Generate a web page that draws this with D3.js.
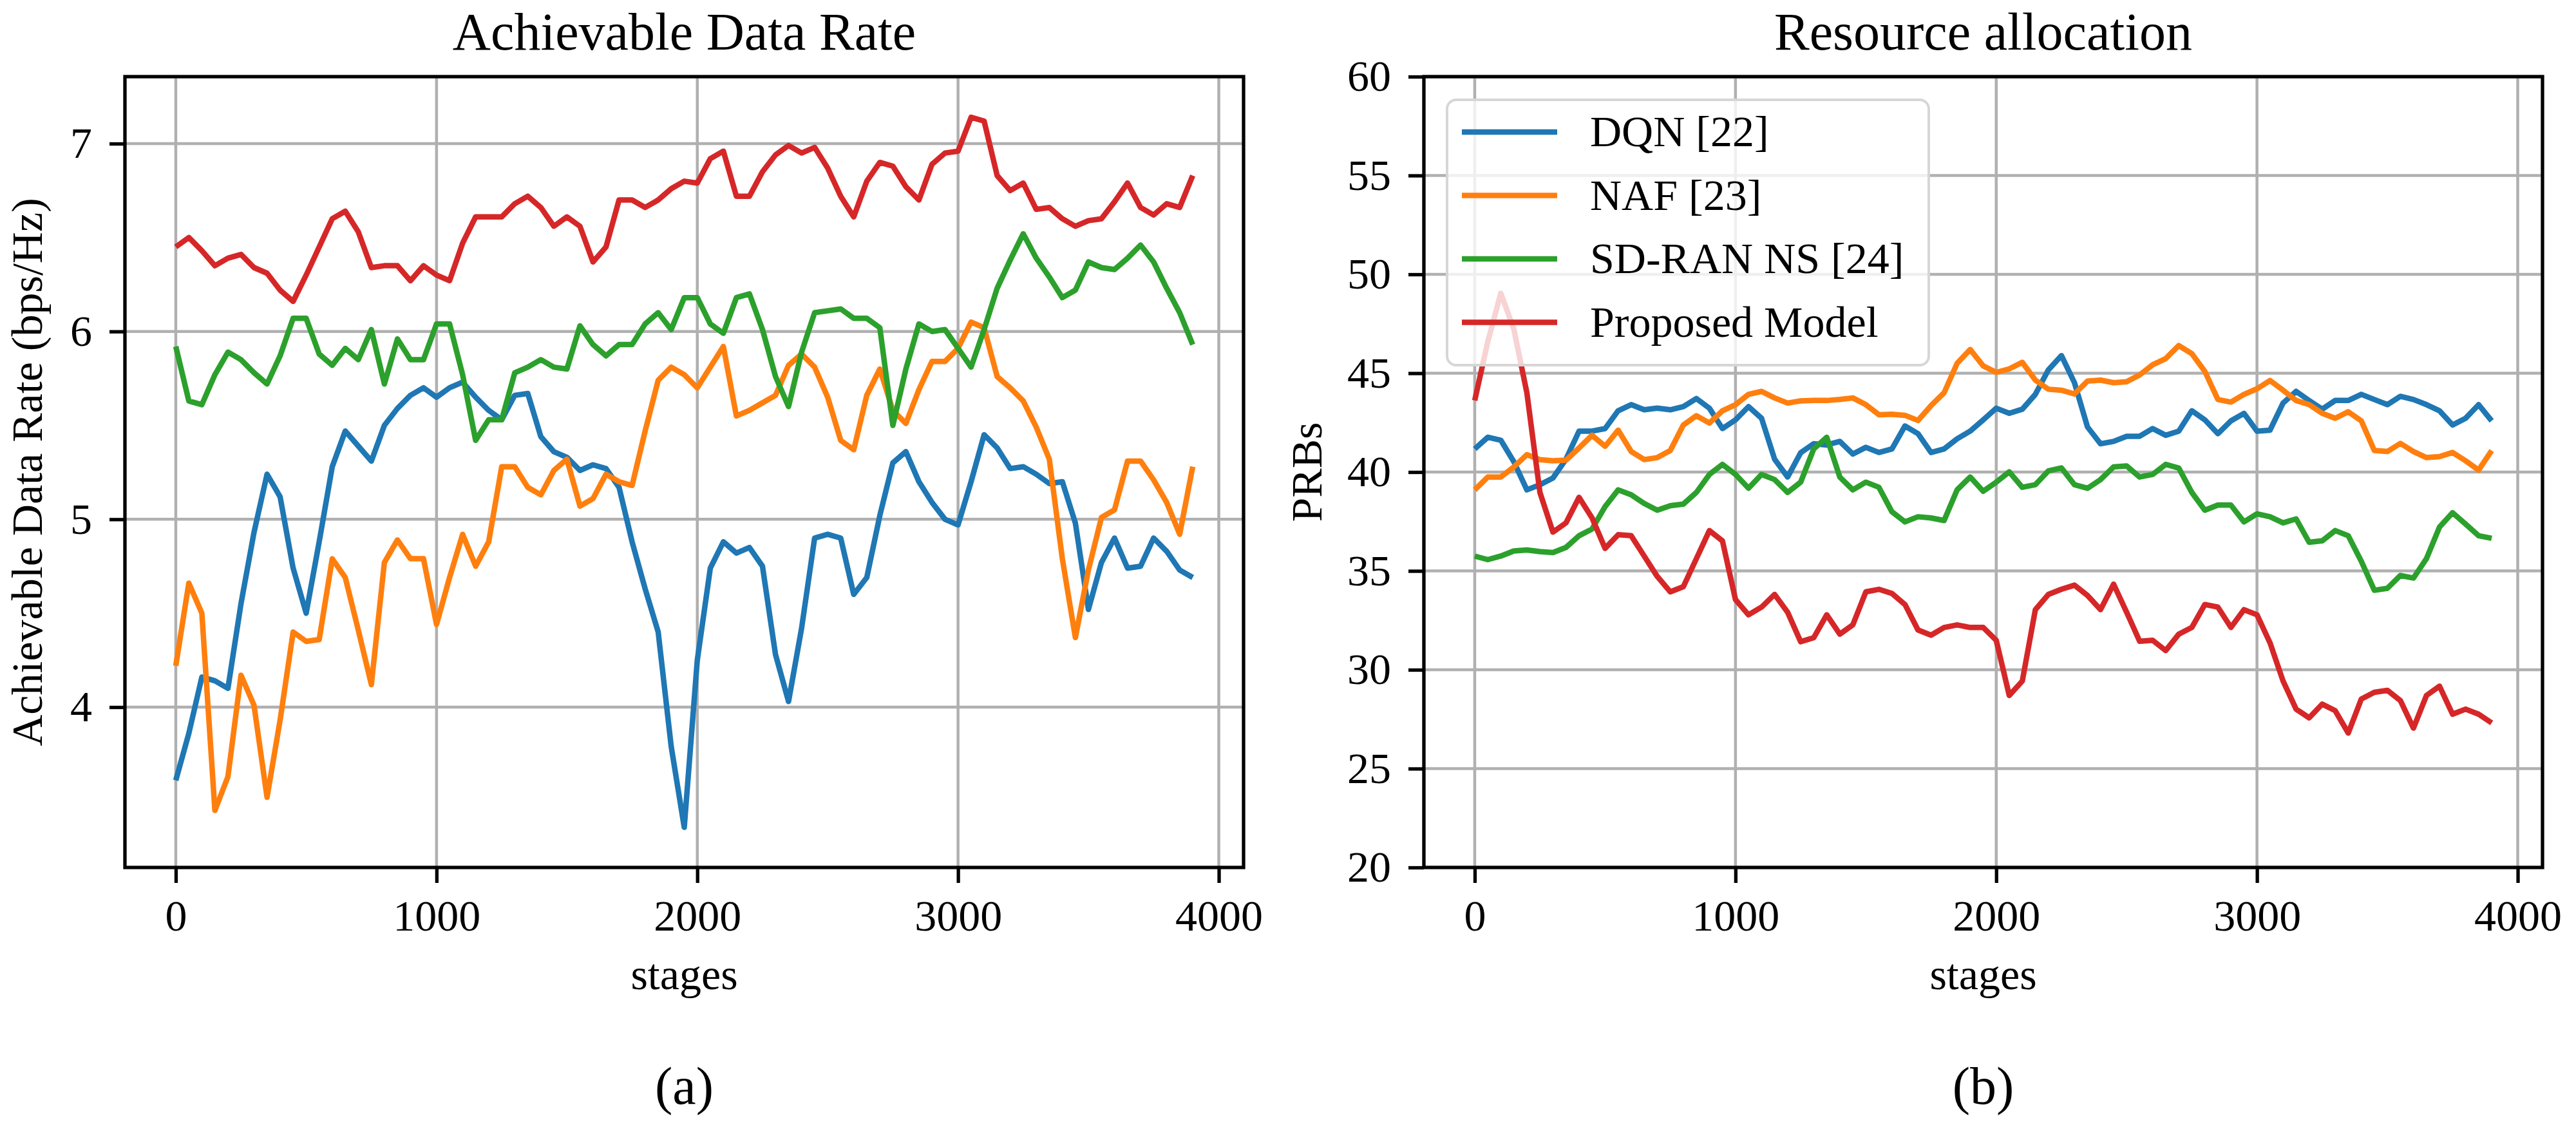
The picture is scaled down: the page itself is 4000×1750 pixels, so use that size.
<!DOCTYPE html>
<html><head><meta charset="utf-8">
<script src="https://cdn.jsdelivr.net/npm/d3@7"></script>
<style>
body{margin:0;background:#fff}
svg{display:block}
text{font-family:"Liberation Serif","Times New Roman",serif;fill:#000}
</style>
</head><body>
<svg id="chart" width="4000" height="1750"></svg>
<script>
// ---------------- data ----------------
const stages = d3.range(0, 3901, 50);
const seriesNames = ["DQN [22]", "NAF [23]", "SD-RAN NS [24]", "Proposed Model"];
const seriesColors = ["#1f77b4", "#ff7f0e", "#2ca02c", "#d62728"];
const xTicks = [0, 1000, 2000, 3000, 4000];
const rateTicks = [4, 5, 6, 7];
const prbTicks = [20, 25, 30, 35, 40, 45, 50, 55, 60];

// (a) Achievable data rate (bps/Hz)
const rateDQN = [3.61,3.86,4.16,4.14,4.10,4.55,4.93,5.24,5.12,4.74,4.50,4.88,5.28,5.47,5.39,5.31,5.50,5.59,5.66,5.70,5.65,5.70,5.73,5.65,5.58,5.53,5.66,5.67,5.44,5.36,5.33,5.26,5.29,5.27,5.17,4.88,4.63,4.40,3.79,3.36,4.25,4.74,4.88,4.82,4.85,4.75,4.28,4.03,4.42,4.90,4.92,4.90,4.60,4.69,5.02,5.30,5.36,5.20,5.09,5.00,4.97,5.20,5.45,5.38,5.27,5.28,5.24,5.19,5.20,4.98,4.52,4.77,4.90,4.74,4.75,4.90,4.83,4.73,4.69];
const rateNAF = [4.22,4.66,4.50,3.45,3.63,4.17,4.01,3.52,3.93,4.40,4.35,4.36,4.79,4.69,4.41,4.12,4.77,4.89,4.79,4.79,4.44,4.69,4.92,4.75,4.88,5.28,5.28,5.17,5.13,5.26,5.32,5.07,5.11,5.24,5.20,5.18,5.47,5.74,5.81,5.77,5.70,5.81,5.92,5.55,5.58,5.62,5.66,5.82,5.88,5.81,5.65,5.42,5.37,5.66,5.80,5.58,5.51,5.69,5.84,5.84,5.91,6.05,6.02,5.76,5.70,5.63,5.49,5.32,4.79,4.37,4.73,5.01,5.05,5.31,5.31,5.21,5.09,4.92,5.28];
const rateSDRAN = [5.92,5.63,5.61,5.77,5.89,5.85,5.78,5.72,5.87,6.07,6.07,5.88,5.82,5.91,5.85,6.01,5.72,5.96,5.85,5.85,6.04,6.04,5.77,5.42,5.53,5.53,5.78,5.81,5.85,5.81,5.80,6.03,5.93,5.87,5.93,5.93,6.04,6.10,6.01,6.18,6.18,6.04,5.99,6.18,6.20,6.01,5.76,5.60,5.89,6.10,6.11,6.12,6.07,6.07,6.02,5.50,5.80,6.04,6.00,6.01,5.91,5.81,6.01,6.23,6.38,6.52,6.39,6.29,6.18,6.22,6.37,6.34,6.33,6.39,6.46,6.37,6.23,6.10,5.93];
const rateProposed = [6.45,6.50,6.43,6.35,6.39,6.41,6.34,6.31,6.22,6.16,6.30,6.45,6.60,6.64,6.53,6.34,6.35,6.35,6.27,6.35,6.30,6.27,6.47,6.61,6.61,6.61,6.68,6.72,6.66,6.56,6.61,6.56,6.37,6.45,6.70,6.70,6.66,6.70,6.76,6.80,6.79,6.92,6.96,6.72,6.72,6.85,6.94,6.99,6.95,6.98,6.87,6.72,6.61,6.80,6.90,6.88,6.77,6.70,6.89,6.95,6.96,7.14,7.12,6.83,6.75,6.79,6.65,6.66,6.60,6.56,6.59,6.60,6.69,6.79,6.66,6.62,6.68,6.66,6.83];

// (b) Resource allocation (PRBs)
const prbDQN = [41.17,41.76,41.61,40.52,39.10,39.36,39.70,40.65,42.07,42.07,42.20,43.10,43.41,43.15,43.23,43.15,43.31,43.72,43.23,42.20,42.64,43.31,42.72,40.65,39.75,40.98,41.43,41.37,41.55,40.91,41.25,40.99,41.17,42.33,41.94,40.99,41.17,41.68,42.07,42.64,43.23,42.97,43.18,43.93,45.17,45.89,44.52,42.28,41.43,41.55,41.81,41.81,42.20,41.86,42.07,43.10,42.64,41.94,42.59,42.97,42.07,42.12,43.49,44.08,43.62,43.18,43.62,43.62,43.93,43.67,43.41,43.83,43.67,43.41,43.10,42.38,42.72,43.41,42.59];
const prbNAF = [39.10,39.75,39.75,40.26,40.88,40.63,40.57,40.60,41.22,41.86,41.30,42.12,41.04,40.63,40.73,41.09,42.38,42.85,42.48,43.10,43.41,43.93,44.08,43.75,43.49,43.60,43.62,43.62,43.67,43.75,43.41,42.90,42.92,42.87,42.61,43.36,44.01,45.50,46.20,45.37,45.04,45.22,45.55,44.65,44.19,44.14,43.95,44.60,44.65,44.52,44.57,44.91,45.43,45.74,46.40,45.99,45.09,43.67,43.54,43.93,44.21,44.63,44.14,43.62,43.41,42.97,42.72,43.05,42.59,41.09,41.04,41.45,41.04,40.73,40.78,40.99,40.57,40.10,41.09];
const prbSDRAN = [35.75,35.57,35.75,36.01,36.06,35.98,35.93,36.19,36.78,37.12,38.25,39.10,38.85,38.41,38.07,38.30,38.38,38.97,39.88,40.39,39.88,39.18,39.88,39.62,38.97,39.49,41.17,41.76,39.75,39.10,39.49,39.23,37.99,37.48,37.74,37.68,37.55,39.10,39.75,39.03,39.49,40.01,39.23,39.36,40.06,40.21,39.36,39.18,39.62,40.26,40.31,39.75,39.88,40.39,40.20,38.97,38.07,38.33,38.33,37.48,37.89,37.74,37.43,37.63,36.45,36.52,37.04,36.78,35.49,34.02,34.12,34.77,34.64,35.62,37.22,37.94,37.37,36.78,36.65];
const prbProposed = [43.62,46.59,49.04,47.23,44.01,38.97,36.96,37.43,38.72,37.68,36.14,36.83,36.78,35.75,34.72,33.94,34.20,35.62,37.04,36.52,33.55,32.78,33.17,33.81,32.91,31.42,31.62,32.78,31.80,32.27,33.94,34.07,33.86,33.30,32.01,31.75,32.14,32.27,32.14,32.14,31.49,28.70,29.43,33.04,33.81,34.07,34.28,33.76,33.04,34.33,32.91,31.44,31.49,30.97,31.80,32.14,33.30,33.17,32.14,33.04,32.78,31.36,29.43,28.01,27.57,28.26,27.93,26.80,28.52,28.86,28.96,28.44,27.05,28.70,29.17,27.75,28.01,27.75,27.31];

// ---------------- drawing ----------------
const svg = d3.select("#chart");
svg.append("rect").attr("width", 4000).attr("height", 1750).attr("fill", "#fff");

const FONT = 68, TITLE_FONT = 82;
const xDomain = [-195, 4095];

function drawPanel(cfg) {
  const {x0, x1, y0, y1, yDomain, yTicks, series, title, ylabel, ylabelX, caption, legend} = cfg;
  const x = d3.scaleLinear().domain(xDomain).range([x0, x1]);
  const y = d3.scaleLinear().domain(yDomain).range([y1, y0]);
  const g = svg.append("g");

  // grid
  const grid = g.append("g");
  grid.selectAll("line.v").data(xTicks).join("line")
    .attr("x1", d => x(d)).attr("x2", d => x(d)).attr("y1", y0).attr("y2", y1)
    .attr("stroke", "#b0b0b0").attr("stroke-width", 4.5);
  grid.selectAll("line.h").data(yTicks).join("line")
    .attr("y1", d => y(d)).attr("y2", d => y(d)).attr("x1", x0).attr("x2", x1)
    .attr("stroke", "#b0b0b0").attr("stroke-width", 4.5);

  // lines
  const line = d3.line().x((d, i) => x(stages[i])).y(d => y(d));
  series.forEach((vals, k) => {
    g.append("path").datum(vals).attr("d", line)
      .attr("fill", "none").attr("stroke", seriesColors[k])
      .attr("stroke-width", 8.5).attr("stroke-linejoin", "round").attr("stroke-linecap", "butt");
  });

  // axes
  const ax = g.append("g").attr("transform", `translate(0,${y1})`)
    .call(d3.axisBottom(x).tickValues(xTicks).tickFormat(d3.format("d")).tickSizeInner(24).tickSizeOuter(0).tickPadding(26));
  const ay = g.append("g").attr("transform", `translate(${x0},0)`)
    .call(d3.axisLeft(y).tickValues(yTicks).tickFormat(d3.format("d")).tickSizeInner(24).tickSizeOuter(0).tickPadding(27));
  [ax, ay].forEach(a => {
    a.select(".domain").remove();
    a.selectAll(".tick line").attr("stroke", "#000").attr("stroke-width", 5.3);
    a.selectAll(".tick text").attr("font-size", FONT).style("font-family", '"Liberation Serif","Times New Roman",serif');
  });
  ay.selectAll(".tick text").attr("dy", "0.32em");

  // spines
  g.append("rect").attr("x", x0).attr("y", y0).attr("width", x1 - x0).attr("height", y1 - y0)
    .attr("fill", "none").attr("stroke", "#000").attr("stroke-width", 5.3);

  const cx = (x0 + x1) / 2;
  g.append("text").attr("x", cx).attr("y", 77).attr("text-anchor", "middle")
    .attr("font-size", TITLE_FONT).text(title);
  g.append("text").attr("x", cx).attr("y", 1536).attr("text-anchor", "middle")
    .attr("font-size", FONT).text("stages");
  g.append("text").attr("transform", `translate(${ylabelX},${(y0 + y1) / 2}) rotate(-90)`)
    .attr("text-anchor", "middle").attr("font-size", FONT).text(ylabel);
  g.append("text").attr("x", cx).attr("y", 1714).attr("text-anchor", "middle")
    .attr("font-size", TITLE_FONT).text(caption);

  if (legend) {
    const lg = g.append("g");
    lg.append("rect").attr("x", 2247).attr("y", 155).attr("width", 748).attr("height", 412)
      .attr("rx", 14).attr("ry", 14)
      .attr("fill", "rgba(255,255,255,0.8)").attr("stroke", "#d6d6d6").attr("stroke-width", 4);
    const rowY = [205, 303.5, 402, 500.5];
    seriesNames.forEach((name, k) => {
      lg.append("line").attr("x1", 2270).attr("x2", 2418).attr("y1", rowY[k]).attr("y2", rowY[k])
        .attr("stroke", seriesColors[k]).attr("stroke-width", 8.5);
      lg.append("text").attr("x", 2469).attr("y", rowY[k]).attr("dy", "0.33em")
        .attr("font-size", FONT).text(name);
    });
  }
}

drawPanel({
  x0: 194, x1: 1931, y0: 119, y1: 1347,
  yDomain: [3.1463, 7.3566], yTicks: rateTicks,
  series: [rateDQN, rateNAF, rateSDRAN, rateProposed],
  title: "Achievable Data Rate", ylabel: "Achievable Data Rate (bps/Hz)", ylabelX: 65,
  caption: "(a)", legend: false
});
drawPanel({
  x0: 2211, x1: 3948, y0: 119, y1: 1347,
  yDomain: [20, 60], yTicks: prbTicks,
  series: [prbDQN, prbNAF, prbSDRAN, prbProposed],
  title: "Resource allocation", ylabel: "PRBs", ylabelX: 2052,
  caption: "(b)", legend: true
});
</script>
</body></html>
